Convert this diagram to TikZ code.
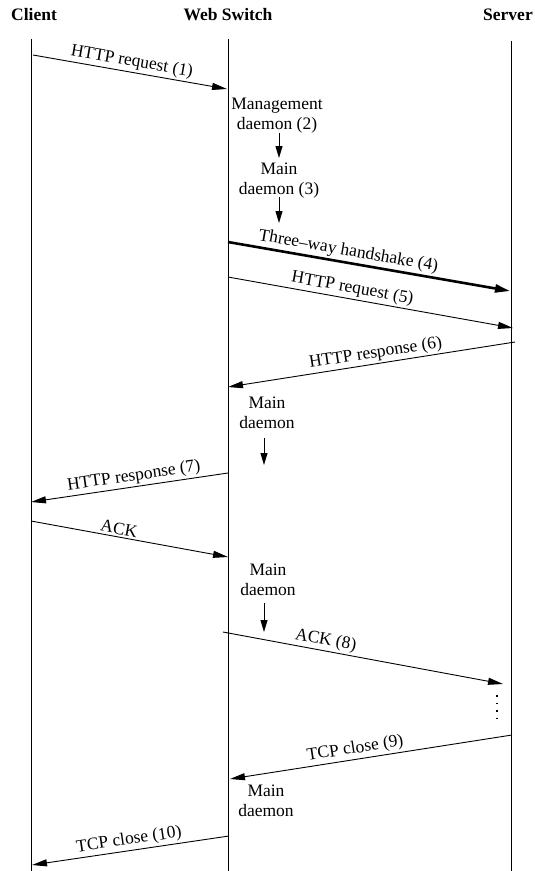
\documentclass[tikz,border=0pt]{standalone}
\usepackage{fontspec}
\setmainfont{Liberation Serif}
\usetikzlibrary{arrows.meta}
\begin{document}
\begin{tikzpicture}[x=1pt,y=-1pt,
  font=\fontsize{17.5}{19.5}\selectfont,
  life/.style={line width=1pt},
  msg/.style={line width=0.9pt,-{Triangle[length=15pt,width=7pt]}},
  thickmsg/.style={line width=2.6pt,-{Triangle[length=15pt,width=8pt]}},
  downarr/.style={line width=0.9pt,-{Triangle[length=12pt,width=7pt]}},
  lbl/.style={sloped,above,inner sep=2pt},
  head/.style={font=\fontsize{17.5}{19.5}\selectfont\bfseries},
  txt/.style={align=center,inner sep=0pt},
]
\useasboundingbox (0,0) rectangle (535,871);

% headers
\node[head] (hc) at (34,15) {Client};
\node[head] (hw) at (228,15) {Web Switch};
\node[head] (hs) at (508,15) {Server};

% lifelines
\coordinate (ct) at (31,39);  \coordinate (cb) at (31,871);
\coordinate (wt) at (228,39); \coordinate (wb) at (228,871);
\coordinate (st) at (511,41); \coordinate (sb) at (511,871);
\draw[life] (ct) -- (cb);
\draw[life] (wt) -- (wb);
\draw[life] (st) -- (sb);

% (1)
\coordinate (a1s) at (33,55); \coordinate (a1e) at (227,89);
\draw[msg] (a1s) -- node[lbl,pos=0.5] (l1) {HTTP request (1)} (a1e);

% daemons (2),(3)
\node[txt] (m2) at (277,115.4) {Management\\daemon (2)};
\coordinate (d2s) at (279,133); \coordinate (d2e) at (279,158);
\draw[downarr] (d2s) -- (d2e);
\node[txt] (m3) at (279,180.4) {Main\\daemon (3)};
\coordinate (d3s) at (279,197); \coordinate (d3e) at (279,223);
\draw[downarr] (d3s) -- (d3e);

% (4)
\coordinate (a4s) at (228,242); \coordinate (a4e) at (510,291);
\draw[thickmsg] (a4s) -- node[lbl,pos=0.42] (l4) {Three--way handshake (4)} (a4e);

% (5)
\coordinate (a5s) at (228,277); \coordinate (a5e) at (513,328);
\draw[msg] (a5s) -- node[lbl,pos=0.43] (l5) {HTTP request (5)} (a5e);

% (6)
\coordinate (a6s) at (515,342); \coordinate (a6e) at (228,387);
\draw[msg] (a6s) -- node[lbl,pos=0.48] (l6) {HTTP response (6)} (a6e);

% main daemon
\node[txt] (md1) at (267,413) {Main\\daemon};
\coordinate (d4s) at (264,438); \coordinate (d4e) at (264,465);
\draw[downarr] (d4s) -- (d4e);

% (7)
\coordinate (a7s) at (228,473); \coordinate (a7e) at (31,502);
\draw[msg] (a7s) -- node[lbl,pos=0.47] (l7) {HTTP response (7)} (a7e);

% ACK
\coordinate (a8s) at (31,521); \coordinate (a8e) at (228,557);
\draw[msg] (a8s) -- node[lbl,pos=0.44] (l8) {ACK} (a8e);

% main daemon
\node[txt] (md2) at (268,580) {Main\\daemon};
\coordinate (d5s) at (264,603); \coordinate (d5e) at (264,632);
\draw[downarr] (d5s) -- (d5e);

% ACK (8)
\coordinate (a9s) at (223,632); \coordinate (a9e) at (503,684);
\draw[msg] (a9s) -- node[lbl,pos=0.36] (l9) {ACK (8)} (a9e);

% dots
\coordinate (dt1) at (497,695); \coordinate (dt2) at (497,721);
\draw[line width=1.2pt,dash pattern=on 1.5pt off 6pt] (dt1) -- (dt2);

% (9)
\coordinate (a10s) at (512,735); \coordinate (a10e) at (230,779);
\draw[msg] (a10s) -- node[lbl,pos=0.55] (l10) {TCP close (9)} (a10e);

\node[txt] (md3) at (266,801) {Main\\daemon};

% (10)
\coordinate (a11s) at (229,836); \coordinate (a11e) at (32,865);
\draw[msg] (a11s) -- node[lbl,pos=0.5] (l11) {TCP close (10)} (a11e);
\end{tikzpicture}
\end{document}
